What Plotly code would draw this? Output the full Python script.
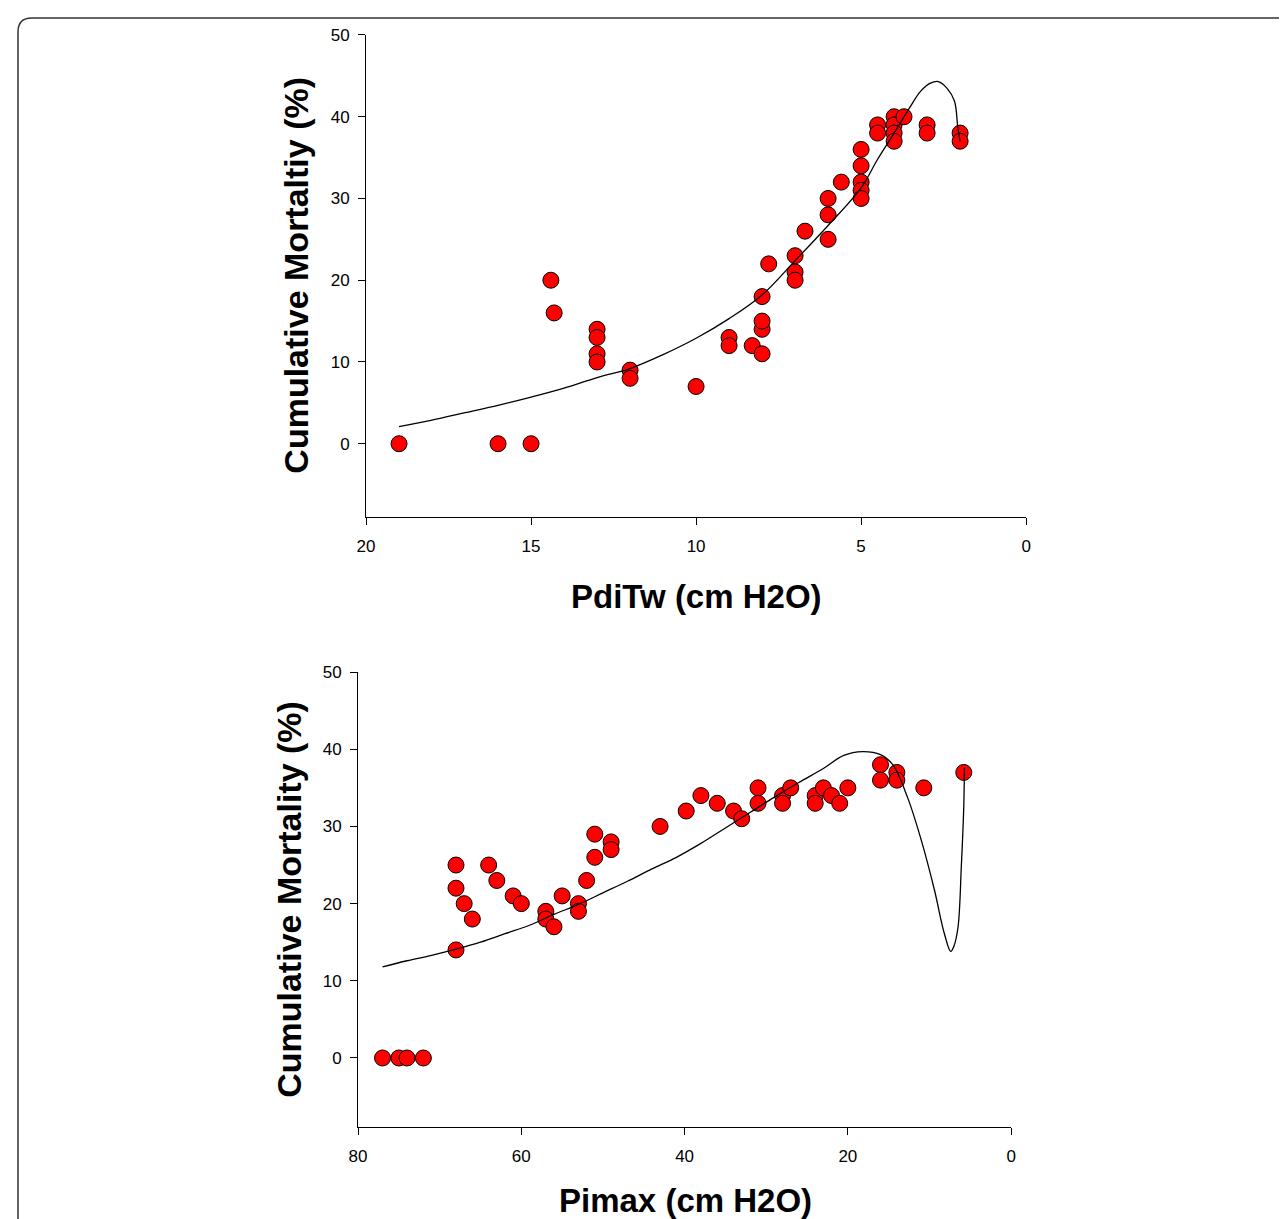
import plotly.graph_objects as go

W, H = 1287, 1219
# the photographed page places figure pixel P at about 16 + 0.99*P; compensate
AX, SX = 16.0, 0.989
AY, SY = 16.0, 0.994

# ---- Top panel data (PdiTw) ----
pditw_x = [19, 16, 15, 14.4, 14.3, 13, 13, 13, 13, 12, 12, 10, 9, 9, 8.3, 8, 8, 8, 8, 7.8,
           7, 7, 7, 6.7, 6, 6, 6, 5.6, 5, 5, 5, 5, 5, 4.5, 4.5, 4, 4, 4, 4, 3.7, 3, 3, 2, 2]
pditw_mort = [0, 0, 0, 20, 16, 14, 13, 11, 10, 9, 8, 7, 13, 12, 12, 11, 14, 15, 18, 22,
              23, 21, 20, 26, 30, 28, 25, 32, 36, 34, 32, 31, 30, 39, 38, 40, 39, 38, 37, 40, 39, 38, 38, 37]

# fitted curve
pditw_fit_x = [19, 18, 17, 16, 15, 14, 13, 12, 11, 10, 9, 8, 7, 6, 5, 4.5, 4, 3.5, 3.2, 2.9,
               2.66, 2.4, 2.17, 2.07, 2.0]
pditw_fit_y = [2.1, 2.9, 3.8, 4.7, 5.7, 6.8, 8.1, 9.2, 10.9, 12.9, 15.3, 18.2, 22.4, 26.7, 31.3,
               34.8, 38.0, 41.3, 43.1, 44.1, 44.3, 43.5, 41.9, 38.7, 37.0]

# ---- Bottom panel data (Pimax) ----
pimax_x = [77, 75, 74, 72, 68, 68, 67, 66, 68, 64, 63, 61, 60, 57, 57, 56, 55, 53, 53, 52,
           51, 51, 49, 49, 43, 39.8, 38, 36, 34, 33, 31, 31, 28, 28, 27, 24, 24, 23, 22, 21, 20,
           16, 16, 14, 14, 10.7, 5.8]
pimax_mort = [0, 0, 0, 0, 25, 22, 20, 18, 14, 25, 23, 21, 20, 19, 18, 17, 21, 20, 19, 23,
              29, 26, 28, 27, 30, 32, 34, 33, 32, 31, 35, 33, 34, 33, 35, 34, 33, 35, 34, 33, 35,
              38, 36, 37, 36, 35, 37]

pimax_fit_x = [77, 74, 71, 68, 65, 62, 59, 56, 53, 50, 47, 44, 41, 38, 35, 32, 29, 26, 23, 20.5,
               18.2, 16, 14.5, 12.7, 11, 9.4, 8.2, 7.4, 7.0, 6.5, 6.1, 5.8, 5.72]
pimax_fit_y = [11.8, 12.6, 13.3, 14.1, 15.0, 16.1, 17.2, 18.6, 19.9, 21.4, 22.9, 24.5, 26.0, 27.8,
               29.8, 31.8, 33.8, 35.7, 37.5, 39.2, 39.7, 39.3, 38.0, 33.8, 28.2, 21.8, 16.2, 13.8,
               14.5, 17.0, 24.8, 32.6, 37.7]

y_ticks = [0, 10, 20, 30, 40, 50]
top_x_ticks = [20, 15, 10, 5, 0]
bot_x_ticks = [80, 60, 40, 20, 0]

top_xlabel = "PdiTw (cm H2O)"
top_ylabel = "Cumulative Mortaltiy (%)"
bot_xlabel = "Pimax (cm H2O)"
bot_ylabel = "Cumulative Mortality (%)"


def px(x):
    return ((x - AX) / SX) / W


def py(y):
    return 1 - ((y - AY) / SY) / H


FONT = "Liberation Sans, Arial, sans-serif"
marker = dict(size=16, color="#ff0000", line=dict(color="black", width=1))

fig = go.Figure()
fig.add_trace(go.Scatter(x=pditw_x, y=pditw_mort, mode="markers", marker=marker,
                         xaxis="x", yaxis="y", showlegend=False))
fig.add_trace(go.Scatter(x=pditw_fit_x, y=pditw_fit_y, mode="lines",
                         line=dict(color="black", width=1.3, shape="spline"),
                         xaxis="x", yaxis="y", showlegend=False))
fig.add_trace(go.Scatter(x=pimax_x, y=pimax_mort, mode="markers", marker=marker,
                         xaxis="x2", yaxis="y2", showlegend=False))
fig.add_trace(go.Scatter(x=pimax_fit_x, y=pimax_fit_y, mode="lines",
                         line=dict(color="black", width=1.3, shape="spline"),
                         xaxis="x2", yaxis="y2", showlegend=False))

axis_common = dict(showgrid=False, zeroline=False, showline=True, linecolor="black", linewidth=1,
                   ticks="outside", ticklen=7, tickcolor="black", tickwidth=1,
                   tickfont=dict(family=FONT, size=17, color="black"))

fig.update_layout(
    width=W, height=H,
    margin=dict(l=0, r=0, t=0, b=0),
    paper_bgcolor="white", plot_bgcolor="white",
    xaxis=dict(domain=[px(365), px(1025)], range=[20, 0], tickvals=top_x_ticks,
               anchor="y", ticklabelstandoff=6, **axis_common),
    yaxis=dict(domain=[py(517), py(34)], range=[-9, 50], tickvals=y_ticks,
               anchor="x", ticklabelstandoff=5, **axis_common),
    xaxis2=dict(domain=[px(357), px(1010)], range=[80, 0], tickvals=bot_x_ticks,
                anchor="y2", ticklabelstandoff=6, **axis_common),
    yaxis2=dict(domain=[py(1128), py(672)], range=[-9, 50], tickvals=y_ticks,
                anchor="x2", ticklabelstandoff=5, **axis_common),
)

annos = [
    dict(text="<b>%s</b>" % top_xlabel, x=px(695), y=py(596), size=33),
    dict(text="<b>%s</b>" % top_ylabel, x=px(295), y=py(275), textangle=-90, size=34),
    dict(text="<b>%s</b>" % bot_xlabel, x=px(684), y=py(1201), size=33),
    dict(text="<b>%s</b>" % bot_ylabel, x=px(288), y=py(900), textangle=-90, size=34),
]
for a in annos:
    size = a.pop("size")
    fig.add_annotation(xref="paper", yref="paper", showarrow=False,
                       font=dict(family=FONT, size=size, color="black"),
                       xanchor="center", yanchor="middle", **a)

# rounded frame (top-left corner visible), as close to the page corner as possible
fx, fy, r = 1.0 / W, 1 - 1.0 / H, 14
path = (f"M {fx},{-0.05} L {fx},{fy - r / H} "
        f"Q {fx},{fy} {fx + r / W},{fy} L {1.05},{fy}")
fig.add_shape(type="path", path=path, xref="paper", yref="paper",
              line=dict(color="#333333", width=1.5))

fig.write_html("out.html")
